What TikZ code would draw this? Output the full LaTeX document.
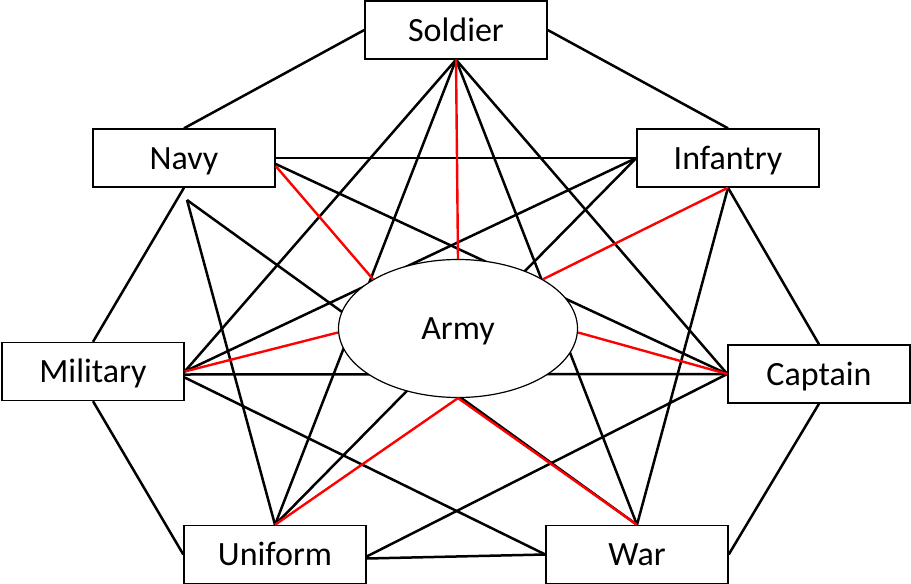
\documentclass[tikz,border=0pt]{standalone}
\usepackage{fontspec}
\setmainfont{Carlito}
\usetikzlibrary{shapes.geometric}
\begin{document}
\begin{tikzpicture}[x=1pt,y=-1pt,
  box/.style={draw=black,line width=1.4pt,fill=white,minimum width=182pt,minimum height=58pt,inner sep=0pt,text height=22pt,text depth=0pt,font=\fontsize{34}{40}\selectfont},
  oval/.style={ellipse,draw=black,line width=1.2pt,fill=white,minimum width=239pt,minimum height=138pt,inner sep=0pt,text height=22pt,text depth=0pt,font=\fontsize{34}{40}\selectfont},
  link/.style={draw=black,line width=2.5pt},
  redlink/.style={draw=red,line width=2.4pt}]
\useasboundingbox (0,0) rectangle (911,584);
\node[box] (soldier) at (456,30) {Soldier};
\node[box] (navy) at (184,158) {Navy};
\node[box] (infantry) at (728,158) {Infantry};
\node[box] (military) at (93,371.5) {Military};
\node[box] (captain) at (819,374) {Captain};
\node[box] (uniform) at (275,554.5) {Uniform};
\node[box] (war) at (637,554.5) {War};
\coordinate (navyb) at (187,200);
% outer ring
\draw[link] (soldier.west) -- (navy.north);
\draw[link] (soldier.east) -- (infantry.north);
\draw[link] (navy.south) -- (military.north);
\draw[link] (infantry.south) -- (captain.north);
\draw[link] (military.south) -- (uniform.west);
\draw[link] (captain.south) -- (war.east);
\draw[link] ([yshift=-4pt]uniform.east) -- (war.west);
% inner links
\draw[link] ([yshift=-2pt]uniform.east) -- (captain.west);
\draw[link] ([yshift=-6pt]military.east) -- (war.west);
\draw[link] ([yshift=-3pt]military.east) -- (captain.west);
\draw[link] (military.east) -- (soldier.south);
\draw[link] (military.east) -- (infantry.west);
\draw[link] (navy.east) -- (infantry.west);
\draw[link] ([yshift=-6pt]navy.east) -- (captain.west);
\draw[link] (navyb) -- (uniform.north);
\draw[link] (navyb) -- (war.north);
\draw[link] (soldier.south) -- (captain.west);
\draw[link] (soldier.south) -- (war.north);
\draw[link] (soldier.south) -- (uniform.north);
\draw[link] (infantry.west) -- (uniform.north);
\draw[link] (infantry.south) -- (war.north);
% centre
\node[oval] (army) at (458,328.5) {Army};
\draw[redlink] (army.north) -- (soldier.south);
\draw[redlink] (army.north west) -- ([yshift=-8pt]navy.east);
\draw[redlink] (army.north east) -- (infantry.south);
\draw[redlink] ([yshift=-4pt]army.west) -- (military.east);
\draw[redlink] ([yshift=-4pt]army.east) -- (captain.west);
\draw[redlink] (army.south) -- (uniform.north);
\draw[redlink] (army.south) -- (war.north);
\end{tikzpicture}
\end{document}
